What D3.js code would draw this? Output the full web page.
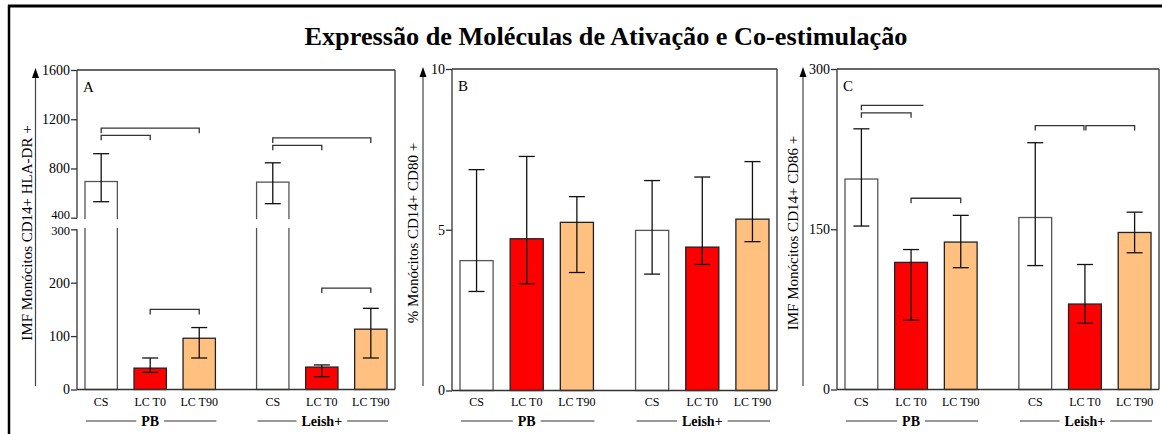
<!DOCTYPE html>
<html>
<head>
<meta charset="utf-8">
<script src="https://cdn.jsdelivr.net/npm/d3@7"></script>
<style>
  body { margin: 0; background: #fff; }
</style>
</head>
<body>
<div id="container"></div>
<script>
/* CONSTANTS AND GLOBALS */
const width = 1162, height = 434;
const serif = "Liberation Serif";

// DATA
const groups = ["PB", "Leish+"];
const categories = ["CS", "LC T0", "LC T90"];

// A: IMF CD14+ HLA-DR+
const hlaMean = [694, 40, 96, 689, 42, 113];
const hlaLow  = [530, 32, 59, 514, 24, 59];
const hlaHigh = [920, 59, 116, 846, 46, 152];
const hlaTicks = [0, 100, 200, 300, 400, 800, 1200, 1600];

// B: % CD14+ CD80+
const cd80Mean = [4.04, 4.72, 5.23, 4.98, 4.46, 5.33];
const cd80Low  = [3.08, 3.32, 3.67, 3.62, 3.92, 4.63];
const cd80High = [6.87, 7.28, 6.03, 6.53, 6.64, 7.12];
const cd80Ticks = [0, 5, 10];

// C: IMF CD14+ CD86+
const cd86Mean = [197, 119, 138, 161, 80, 147];
const cd86Low  = [153, 65, 114, 116, 62, 128];
const cd86High = [244, 131, 163, 231, 117, 166];
const cd86Ticks = [0, 150, 300];

// significance brackets: group, from category index, to category index, level
const hlaBrackets = [
  { g: 0, a: 0, b: 1, v: 1069 }, { g: 0, a: 0, b: 2, v: 1127 },
  { g: 1, a: 0, b: 1, v: 988 },  { g: 1, a: 0, b: 2, v: 1048 },
  { g: 0, a: 1, b: 2, v: 150 },  { g: 1, a: 1, b: 2, v: 190 }
];
const cd80Brackets = [];
const cd86Brackets = [
  { g: 0, a: 0, b: 1, v: 259 }, { g: 0, a: 0, b: 1.25, v: 266, open: true },
  { g: 0, a: 1, b: 2, v: 179 },
  { g: 1, a: 0, b: 0.98, v: 247 }, { g: 1, a: 1.02, b: 2, v: 247 }
];

const title = "Expressão de Moléculas de Ativação e Co-estimulação";

const colors = { "CS": "#ffffff", "LC T0": "#ff0000", "LC T90": "#ffc080" };

// PANELS
const panels = [
  { letter: "A", label: "IMF Monócitos CD14+ HLA-DR +", left: 77, right: 395, top: 70, bottom: 389.5,
    axisX: 35.5, titleX: 27, mean: hlaMean, low: hlaLow, high: hlaHigh, ticks: hlaTicks,
    domain: [0, 300, 400, 1600], brk: true, brackets: hlaBrackets },
  { letter: "B", label: "% Monócitos CD14+ CD80 +", left: 452, right: 777, top: 69, bottom: 390.5,
    axisX: 423, titleX: 413, mean: cd80Mean, low: cd80Low, high: cd80High, ticks: cd80Ticks,
    domain: [0, 10], brk: false, brackets: cd80Brackets },
  { letter: "C", label: "IMF Monócitos CD14+ CD86 +", left: 837, right: 1159, top: 69, bottom: 389.5,
    axisX: 803, titleX: 793, mean: cd86Mean, low: cd86Low, high: cd86High, ticks: cd86Ticks,
    domain: [0, 300], brk: false, brackets: cd86Brackets }
];

// CREATE SVG
const svg = d3.select("#container")
  .append("svg")
  .attr("width", width)
  .attr("height", height)
  .attr("font-family", serif);

// outer frame (top and left edges only visible)
svg.append("line").attr("x1", 8).attr("x2", width).attr("y1", 6).attr("y2", 6)
  .attr("stroke", "#000").attr("stroke-width", 3);
svg.append("line").attr("x1", 9).attr("x2", 9).attr("y1", 5).attr("y2", height)
  .attr("stroke", "#000").attr("stroke-width", 2.5);

svg.append("text")
  .attr("x", 606).attr("y", 45)
  .attr("text-anchor", "middle")
  .attr("font-size", 26).attr("font-weight", "bold")
  .attr("textLength", 603).attr("lengthAdjust", "spacingAndGlyphs")
  .text(title);

panels.forEach(p => {
  const g = svg.append("g");

  // SCALES
  let yRange;
  if (p.brk) {
    // broken axis: 0-300 lower segment, 400-1600 upper segment
    yRange = [p.bottom, 229.3, 217.7, p.top];
  } else {
    yRange = [p.bottom, p.top];
  }
  const y = d3.scaleLinear().domain(p.domain).range(yRange);

  const x0 = d3.scaleBand()
    .domain(groups)
    .range([p.left + 8, p.right - 8])
    .paddingInner(0.24);

  const x1 = d3.scaleBand()
    .domain(categories)
    .range([0, x0.bandwidth()])
    .paddingInner(0.34);

  const rows = p.mean.map((m, i) => ({
    group: groups[Math.floor(i / 3)],
    cat: categories[i % 3],
    mean: m, low: p.low[i], high: p.high[i]
  }));
  const cx = d => x0(d.group) + x1(d.cat) + x1.bandwidth() / 2;

  // DRAW BARS
  g.selectAll(".bar")
    .data(rows)
    .join("rect")
    .attr("class", "bar")
    .attr("x", d => x0(d.group) + x1(d.cat))
    .attr("width", x1.bandwidth())
    .attr("y", d => y(d.mean))
    .attr("height", d => p.bottom - y(d.mean))
    .attr("fill", d => colors[d.cat])
    .attr("stroke", d => d.cat === "CS" ? "#555" : "#222")
    .attr("stroke-width", 1.3);

  // ERROR BARS
  const err = g.selectAll(".err")
    .data(rows)
    .join("g")
    .attr("class", "err")
    .attr("stroke", "#111")
    .attr("stroke-width", 1.3);
  err.append("line")
    .attr("x1", cx).attr("x2", cx)
    .attr("y1", d => y(d.low)).attr("y2", d => y(d.high));
  err.append("line")
    .attr("x1", d => cx(d) - 8).attr("x2", d => cx(d) + 8)
    .attr("y1", d => y(d.high)).attr("y2", d => y(d.high));
  err.append("line")
    .attr("x1", d => cx(d) - 8).attr("x2", d => cx(d) + 8)
    .attr("y1", d => y(d.low)).attr("y2", d => y(d.low));

  // mask the axis break
  if (p.brk) {
    g.append("rect")
      .attr("x", p.left + 2).attr("width", p.right - p.left - 4)
      .attr("y", y(400) + 1.5).attr("height", y(300) - y(400) - 3)
      .attr("fill", "#fff");
  }

  // FRAME
  const frame = g.append("g").attr("stroke", "#333").attr("stroke-width", 1.3).attr("fill", "none");
  frame.append("line").attr("x1", p.left).attr("x2", p.right).attr("y1", p.top).attr("y2", p.top);
  frame.append("line").attr("x1", p.right).attr("x2", p.right).attr("y1", p.top).attr("y2", p.bottom);
  frame.append("line").attr("x1", p.left).attr("x2", p.right).attr("y1", p.bottom).attr("y2", p.bottom);
  if (p.brk) {
    frame.append("line").attr("x1", p.left).attr("x2", p.left).attr("y1", p.top).attr("y2", y(400));
    frame.append("line").attr("x1", p.left).attr("x2", p.left).attr("y1", y(300)).attr("y2", p.bottom);
  } else {
    frame.append("line").attr("x1", p.left).attr("x2", p.left).attr("y1", p.top).attr("y2", p.bottom);
  }

  // Y AXIS
  const yAxis = g.append("g")
    .attr("transform", `translate(${p.left},0)`)
    .call(d3.axisLeft(y).tickValues(p.ticks).tickSize(6).tickPadding(1).tickFormat(d3.format("d")));
  yAxis.attr("font-family", serif).attr("font-size", 14);
  yAxis.select(".domain").remove();
  yAxis.selectAll("line").attr("stroke", "#333").attr("stroke-width", 1.3);
  yAxis.selectAll("text").attr("fill", "#000")
    .attr("font-size", d => (p.brk && (d === 300 || d === 400)) ? 12.5 : 14)
    .attr("dy", d => p.brk && d === 400 ? "0.1em" : p.brk && d === 300 ? "0.45em" : "0.32em");

  // arrow line beside the axis
  g.append("line")
    .attr("x1", p.axisX).attr("x2", p.axisX)
    .attr("y1", 386).attr("y2", p.top + 6)
    .attr("stroke", "#444").attr("stroke-width", 1.2);
  g.append("path")
    .attr("d", `M${p.axisX},${p.top - 2} L${p.axisX - 3.5},${p.top + 8} L${p.axisX + 3.5},${p.top + 8} Z`)
    .attr("fill", "#000");

  // axis title
  g.append("text")
    .attr("transform", `translate(${p.titleX},233) rotate(-90)`)
    .attr("text-anchor", "middle")
    .attr("dy", "0.35em")
    .attr("font-size", 15)
    .text(p.label);

  // panel letter
  g.append("text")
    .attr("x", p.left + 6).attr("y", p.top + 22)
    .attr("font-size", 15)
    .text(p.letter);

  // BRACKETS
  const bx = (gi, idx) => x0(groups[gi]) + x1.step() * idx + x1.bandwidth() / 2;
  g.selectAll(".bracket")
    .data(p.brackets)
    .join("path")
    .attr("class", "bracket")
    .attr("fill", "none")
    .attr("stroke", "#333")
    .attr("stroke-width", 1.3)
    .attr("d", d => {
      const xa = bx(d.g, d.a), xb = bx(d.g, d.b), yy = y(d.v);
      return d.open
        ? `M${xa},${yy + 5} V${yy} H${xb}`
        : `M${xa},${yy + 5} V${yy} H${xb} V${yy + 5}`;
    });

  // CATEGORY LABELS
  g.selectAll(".cat")
    .data(rows)
    .join("text")
    .attr("class", "cat")
    .attr("x", cx)
    .attr("y", 406)
    .attr("text-anchor", "middle")
    .attr("font-size", 12)
    .text(d => d.cat);

  // GROUP LABELS WITH RULES
  groups.forEach(gr => {
    const gx = x0(gr), gw = x0.bandwidth(), mid = gx + gw / 2;
    const t = g.append("text")
      .attr("x", mid).attr("y", 425.5)
      .attr("text-anchor", "middle")
      .attr("font-size", 14).attr("font-weight", "bold")
      .text(gr);
    const tw = t.node().getComputedTextLength();
    g.append("line").attr("x1", gx + 1).attr("x2", mid - tw / 2 - 5)
      .attr("y1", 421).attr("y2", 421).attr("stroke", "#333").attr("stroke-width", 1.2);
    g.append("line").attr("x1", mid + tw / 2 + 5).attr("x2", gx + gw + 1)
      .attr("y1", 421).attr("y2", 421).attr("stroke", "#333").attr("stroke-width", 1.2);
  });
});
</script>
</body>
</html>
